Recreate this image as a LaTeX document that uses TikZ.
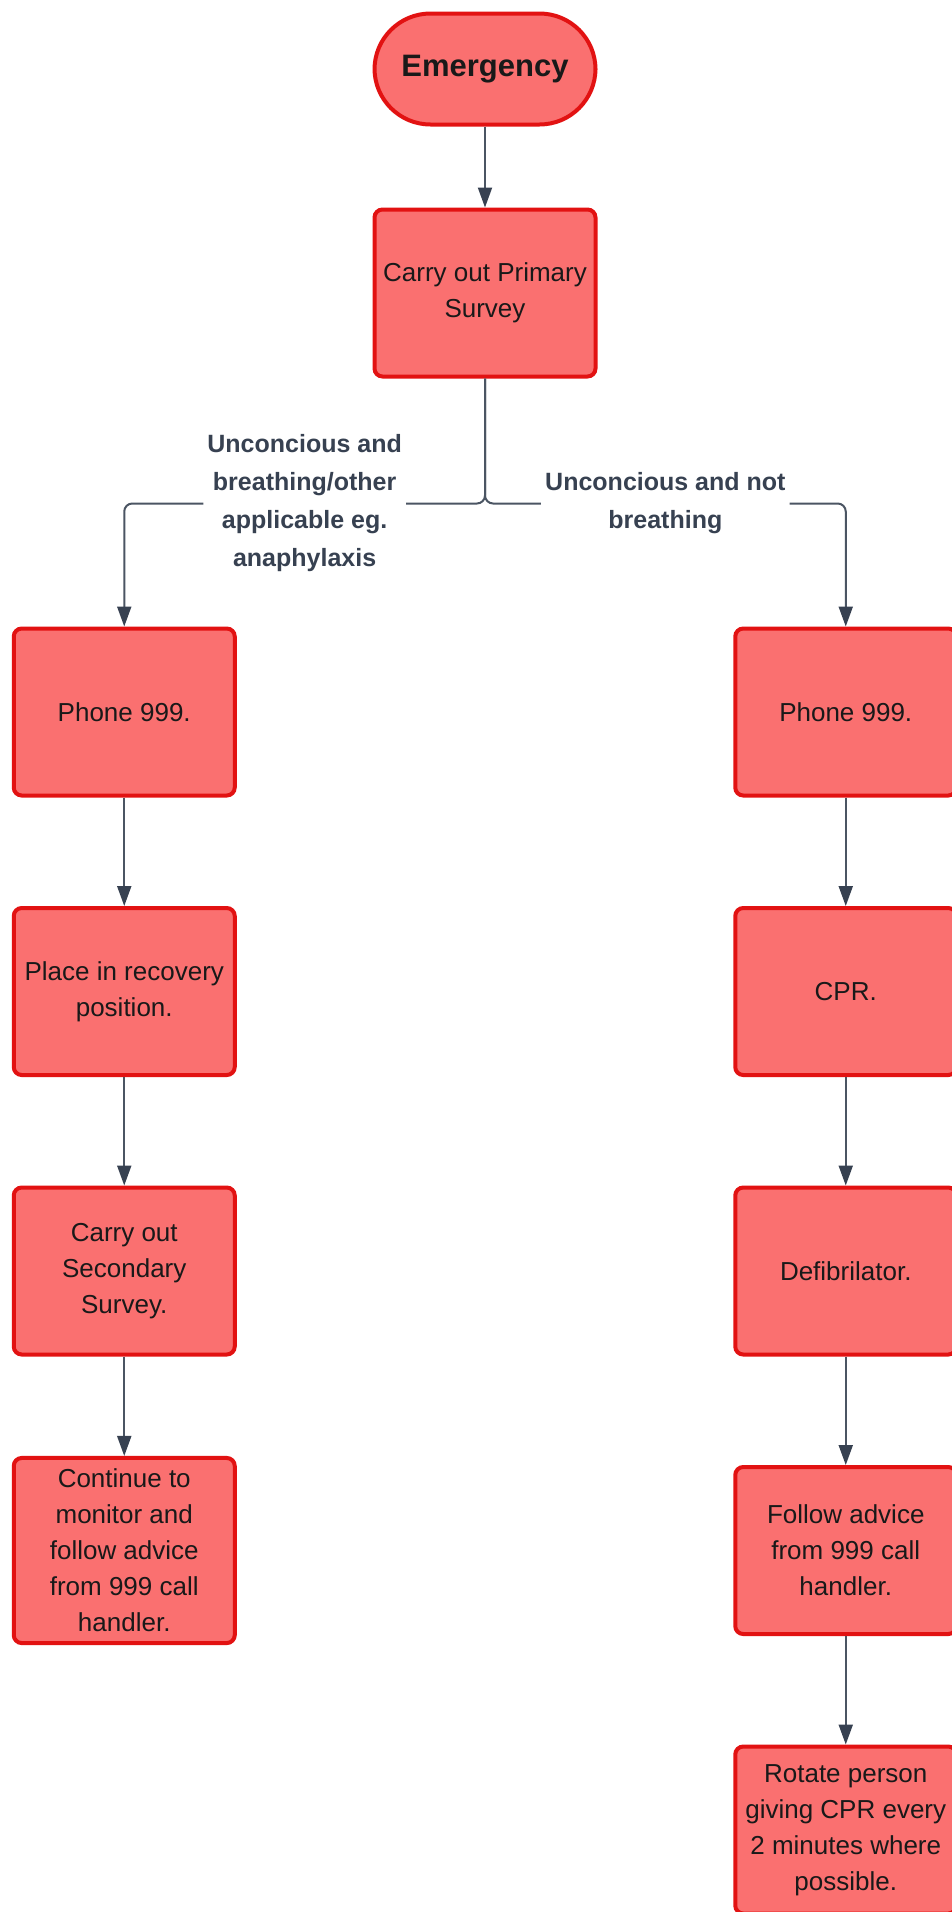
\documentclass[tikz,border=0pt]{standalone}
\usepackage{fontspec}
\setmainfont{Liberation Sans}
\usetikzlibrary{arrows.meta}

\definecolor{boxfill}{RGB}{250,112,112}
\definecolor{boxline}{RGB}{226,18,18}
\definecolor{wire}{RGB}{75,85,99}
\definecolor{tipcol}{RGB}{55,65,81}

\tikzset{
  stepbox/.style={draw=boxline, fill=boxfill, line width=2pt, rounded corners=4pt,
    minimum width=110.5pt, minimum height=83.5pt, inner ysep=5.5pt, align=center,
    text=black!90, font=\fontsize{13}{18}\selectfont},
  startbox/.style={stepbox, rounded corners=28pt, minimum height=55.5pt,
    font=\fontsize{15.5}{18}\selectfont\bfseries},
  cond/.style={fill=white, inner xsep=2pt, inner ysep=1pt, align=center, text=tipcol,
    font=\fontsize{12.5}{19}\selectfont\bfseries},
}

\begin{document}
\begin{tikzpicture}[
    edge from parent/.style={draw=wire, line width=1pt, rounded corners=4pt,
      -{Triangle[length=10pt,width=7pt,color=tipcol]}},
    level 1/.style={level distance=112pt},
    level 2/.style={level distance=209.5pt, sibling distance=360.75pt,
      edge from parent path={(\tikzparentnode.south) -- ++(0,-62.5pt) -| (\tikzchildnode.north)}},
    level 3/.style={level distance=139.75pt,
      edge from parent path={(\tikzparentnode.south) -- (\tikzchildnode.north)}},
    level 4/.style={level distance=139.75pt},
    level 5/.style={level distance=139.75pt}]
  \useasboundingbox (0,0) rectangle (476pt,-956pt);
  \node[startbox] (emergency) at (242.5pt,-34.5pt) {Emergency}
  child {node[stepbox] (primary) {Carry out Primary\\Survey}
      child {node[stepbox] (phoneL) {Phone 999.}
          child {node[stepbox] (recovery) {Place in recovery\\position.}
              child {node[stepbox] (secondary) {Carry out\\Secondary\\Survey.}
                  child {node[stepbox] (monitor) {Continue to\\monitor and\\follow advice\\from 999 call\\handler.}}
                }
            }
          edge from parent node[cond, pos=0.25] {Unconcious and\\breathing/other\\applicable eg.\\anaphylaxis}
        }
      child {node[stepbox] (phoneR) {Phone 999.}
          child {node[stepbox] (cpr) {CPR.}
              child {node[stepbox] (defib) {Defibrilator.}
                  child {node[stepbox] (advice) {Follow advice\\from 999 call\\handler.}
                      child {node[stepbox] (rotate) {Rotate person\\giving CPR every\\2 minutes where\\possible.}}
                    }
                }
            }
          edge from parent node[cond, pos=0.25] {Unconcious and not\\breathing}
        }
    };
\end{tikzpicture}
\end{document}
